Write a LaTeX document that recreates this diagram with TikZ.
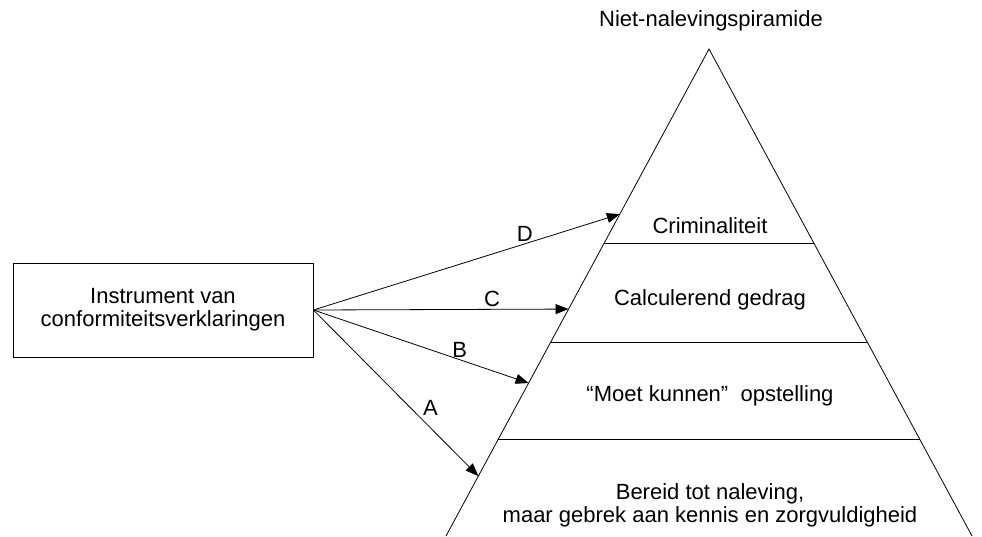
\documentclass[tikz,border=0pt]{standalone}
\usepackage{fontspec}
\setmainfont{Liberation Sans}
\usetikzlibrary{arrows.meta, positioning}

\tikzset{
  txt/.style={font=\fontsize{22}{23}\selectfont, align=center, inner sep=0pt},
  instrbox/.style={draw, thick, minimum width=300pt, minimum height=94pt, txt},
  lbl/.style={font=\fontsize{22}{23}\selectfont, inner sep=2pt},
  pijl/.style={-{Triangle[length=13pt, width=10pt]}, thick},
  laag/.style={thick}
}

\begin{document}
\begin{tikzpicture}[x=1pt, y=-1pt]
        \useasboundingbox (0,0) rectangle (982,536);
        % piramide
        \coordinate (top) at (709,49);
        \coordinate (bl) at (446,536);
        \coordinate (br) at (972,536);
        \draw[thick] (bl) -- (top) -- (br);
        \foreach \p/\n in {0.400/1, 0.602/2, 0.801/3} {
          \path (top) -- (bl) coordinate[pos=\p] (l\n);
          \path (top) -- (br) coordinate[pos=\p] (r\n);
          \draw[laag] (l\n) -- (r\n);
        }
        % doelpunten van de pijlen
        \path (top) -- (bl)
          coordinate[pos=0.339] (tD)
          coordinate[pos=0.534] (tC)
          coordinate[pos=0.686] (tB)
          coordinate[pos=0.877] (tA);
        % teksten
        \node[txt] (titel) at (711,21) {Niet-nalevingspiramide};
        \node[txt] (crim) at (710,226) {Criminaliteit};
        \node[txt] (calc) at (710,300) {Calculerend gedrag};
        \node[txt] (moet) at (710,396) {``Moet kunnen''~ opstelling};
        \node[txt] (bereid) at (710,505) {Bereid tot naleving,\\maar gebrek aan kennis en zorgvuldigheid};
        \node[instrbox] (instr) at (163,310) {Instrument van\\conformiteitsverklaringen};
        % pijlen
        \draw[pijl] (instr.east) -- node[lbl, pos=0.69, above] (lD) {D} (tD);
        \draw[pijl] (instr.east) -- node[lbl, pos=0.70, above] (lC) {C} (tC);
        \draw[pijl] (instr.east) -- node[lbl, pos=0.68, above] (lB) {B} (tB);
        \draw[pijl] (instr.east) -- node[lbl, pos=0.65, above right] (lA) {A} (tA);
\end{tikzpicture}
\end{document}
